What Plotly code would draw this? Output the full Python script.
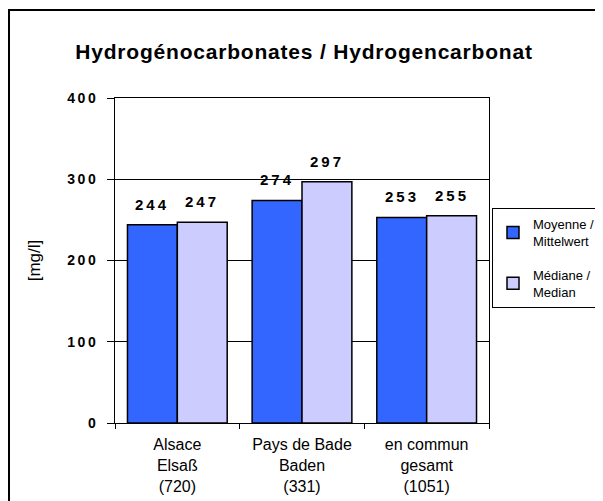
import plotly.graph_objects as go

categories = ["Alsace<br>Elsaß<br>(720)", "Pays de Bade<br>Baden<br>(331)", "en commun<br>gesamt<br>(1051)"]
moyenne = [244, 274, 253]
mediane = [247, 297, 255]
series_names = ["Moyenne /<br>Mittelwert", "Médiane /<br>Median"]
y_ticks = [0, 100, 200, 300, 400]

colors = ["#3366FF", "#CCCCFF"]
font_main = "Liberation Sans, Arial, sans-serif"

# figure is placed at (8, 8) in the page because of the body margin
W, H = 595, 493
L, R, T, B = 107, 114, 90, 78
pw, ph = W - L - R, H - T - B

fig = go.Figure()
for i, (name, vals, col) in enumerate(zip(series_names, [moyenne, mediane], colors)):
    fig.add_trace(go.Bar(
        x=categories, y=vals, name=name, legendgroup=f"g{i}",
        marker=dict(color=col, line=dict(color="black", width=1.5)),
    ))

# value labels above the bars
bar_offsets = [-25, 25]
for vals, dx in zip([moyenne, mediane], bar_offsets):
    for cat, v in zip(categories, vals):
        fig.add_annotation(
            x=cat, y=v, xref="x", yref="y", xshift=dx, yshift=10,
            text=f'<span style="letter-spacing:3px">{v}</span>',
            showarrow=False, yanchor="bottom", xanchor="center",
            font=dict(family=font_main, size=15, color="black", weight="bold"),
        )

fig.update_layout(
    width=W, height=H,
    margin=dict(l=L, r=R, t=T, b=B, autoexpand=False),
    paper_bgcolor="white", plot_bgcolor="white",
    barmode="group", bargap=0.2, bargroupgap=0,
    title=dict(text='<b><span style="letter-spacing:0.8px">Hydrogénocarbonates / Hydrogencarbonat</span></b>',
               font=dict(family=font_main, size=21, color="black"),
               x=296 / W, xref="container", xanchor="center", y=1 - 44 / H, yanchor="middle"),
    legend=dict(x=484 / W, y=1 - 200 / H, xref="container", yref="container",
                xanchor="left", yanchor="top",
                bordercolor="black", borderwidth=1, bgcolor="white",
                font=dict(family=font_main, size=13, color="black"),
                tracegroupgap=14, itemwidth=30),
    showlegend=True,
)

fig.update_xaxes(
    showline=True, linecolor="black", linewidth=1, mirror=True,
    ticks="outside", tickson="boundaries", ticklen=5, tickcolor="black",
    ticklabelstandoff=7,
    tickfont=dict(family=font_main, size=16, color="black"),
)
fig.update_yaxes(
    range=[0, 400], tickvals=y_ticks,
    ticktext=[f'<span style="letter-spacing:2.5px">{t}</span>' for t in y_ticks],
    showline=True, linecolor="black", linewidth=1, mirror=True,
    ticks="outside", ticklen=7, tickcolor="black", ticklabelstandoff=6,
    showgrid=True, gridcolor="black", gridwidth=1,
    tickfont=dict(family=font_main, size=14, color="black", weight="bold"),
    title=dict(text="[mg/l]", font=dict(family=font_main, size=17, color="black"), standoff=22),
)

# outer chart border (left and top edges visible)
fig.add_shape(type="rect", xref="paper", yref="paper",
              x0=(1 - L) / pw, x1=1.6, y0=-0.6, y1=(H - B - 2) / ph,
              line=dict(color="black", width=2), layer="below")

fig.write_html("out.html")
